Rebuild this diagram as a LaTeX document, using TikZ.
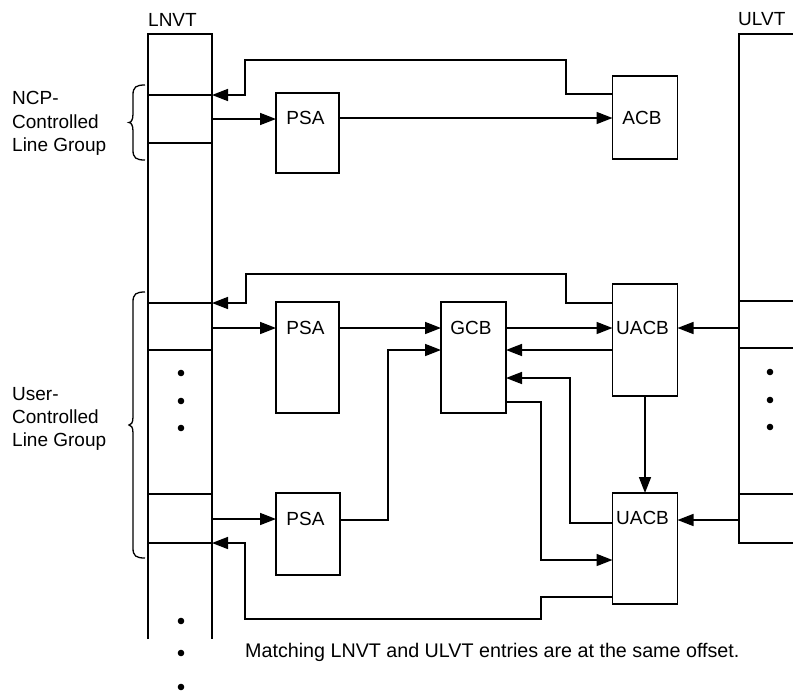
\documentclass[tikz,border=0pt]{standalone}
\usepackage{fontspec}
\setmainfont{Liberation Sans}
\usetikzlibrary{arrows.meta}
\begin{document}
\begin{tikzpicture}[x=1pt,y=-1pt,
  ln/.style={line width=1.6pt},
  arr/.style={line width=1.6pt,-{Triangle[length=16pt,width=12pt]}},
  box/.style={draw,line width=1.6pt,inner sep=0pt,outer sep=0pt},
  lbl/.style={inner sep=0pt,anchor=base,font=\fontsize{19}{22}\selectfont},
  txt/.style={inner sep=0pt,anchor=base west,font=\fontsize{19}{22}\selectfont},
  brc/.style={line width=1.3pt},
  dot/.style={fill=black,draw=none}]
\useasboundingbox (0,0) rectangle (793,691);

% tables (reference nodes)
\node[inner sep=0,outer sep=0,minimum width=64pt,minimum height=605pt,anchor=north west] (lnvt) at (148,34) {};
\node[inner sep=0,outer sep=0,minimum width=60pt,minimum height=509pt,anchor=north west] (ulvt) at (739,34) {};
\draw[ln] (lnvt.south west) -- (lnvt.north west) -- (lnvt.north east) -- (lnvt.south east);
\foreach \yy in {95,143,303,350,494,543} \draw[ln] (148,\yy) -- (212,\yy);
\draw[ln] (793,34) -- (739,34) -- (739,543) -- (793,543);
\foreach \yy in {301,348,494} \draw[ln] (739,\yy) -- (793,\yy);

\node[txt] (lnvtlbl) at (148,26) {LNVT};
\node[txt] (ulvtlbl) at (738,25) {ULVT};

% dots
\foreach \yy in {373,401,428} \fill[dot] (181,\yy) circle (3.3pt);
\foreach \yy in {621,653,687} \fill[dot] (181,\yy) circle (3.3pt);
\foreach \yy in {372,400,427} \fill[dot] (770,\yy) circle (3.3pt);

% braces
\draw[brc] (145,85) .. controls (136,85) and (133,87) .. (133,95) -- (133,114)
  .. controls (133,120) and (131,122.5) .. (129,122.5)
  .. controls (131,122.5) and (133,125) .. (133,131) -- (133,150)
  .. controls (133,158) and (136,160) .. (145,160);
\draw[brc] (145,292) .. controls (136,292) and (133,294) .. (133,302) -- (133,417)
  .. controls (133,423) and (131,425) .. (129,425)
  .. controls (131,425) and (133,427) .. (133,433) -- (133,548)
  .. controls (133,556) and (136,558) .. (145,558);

% group labels
\node[txt] (ncp1) at (12,104) {NCP-};
\node[txt] (ncp2) at (12,128) {Controlled};
\node[txt] (ncp3) at (12,151) {Line Group};
\node[txt] (usr1) at (12,400) {User-};
\node[txt] (usr2) at (12,423) {Controlled};
\node[txt] (usr3) at (12,446) {Line Group};

% boxes
\node[box,minimum width=63pt,minimum height=80pt] (psa1) at (307.5,133) {};
\node[box,minimum width=65pt,minimum height=83pt] (acb) at (645,117.5) {};
\node[box,minimum width=63pt,minimum height=111pt] (psa2) at (307.5,357.5) {};
\node[box,minimum width=65pt,minimum height=111pt] (gcb) at (473.5,357.5) {};
\node[box,minimum width=65pt,minimum height=112pt] (uacb1) at (645,340) {};
\node[box,minimum width=65pt,minimum height=111pt] (uacb2) at (645,548.5) {};
\node[box,minimum width=64pt,minimum height=82pt] (psa3) at (308,534) {};

\node[lbl] (psa1l) at (305.5,124.7) {PSA};
\node[lbl] (acbl) at (642,124.7) {ACB};
\node[lbl] (psa2l) at (305.5,334.7) {PSA};
\node[lbl] (gcbl) at (471,334.7) {GCB};
\node[lbl] (uacb1l) at (642.5,334.7) {UACB};
\node[lbl] (uacb2l) at (642.5,524.7) {UACB};
\node[lbl] (psa3l) at (305.5,525.7) {PSA};

% NCP group connectors
\draw[arr] (acb.west |- 0,94) -- (566,94) -- (566,60) -- (245,60) -- (245,95) -- (lnvt.east |- 0,95);
\draw[arr] (lnvt.east |- 0,119) -- (psa1.west |- 0,119);
\draw[arr] (psa1.east |- 0,118) -- (acb.west |- 0,118);

% user group connectors
\draw[arr] (uacb1.west |- 0,303) -- (566,303) -- (566,274) -- (246,274) -- (246,303) -- (lnvt.east |- 0,303);
\draw[arr] (lnvt.east |- 0,328) -- (psa2.west |- 0,328);
\draw[arr] (psa2.east |- 0,328) -- (gcb.west |- 0,328);
\draw[arr] (gcb.east |- 0,328) -- (uacb1.west |- 0,328);
\draw[arr] (ulvt.west |- 0,328) -- (uacb1.east |- 0,328);
\draw[arr] (uacb1.west |- 0,350) -- (gcb.east |- 0,350);
\draw[arr] (uacb2.west |- 0,523) -- (570,523) -- (570,378) -- (gcb.east |- 0,378);
\draw[arr] (gcb.east |- 0,402) -- (541,402) -- (541,560) -- (uacb2.west |- 0,560);
\draw[arr] (uacb1.south) -- (uacb2.north);
\draw[arr] (ulvt.west |- 0,520) -- (uacb2.east |- 0,520);
\draw[arr] (lnvt.east |- 0,519) -- (psa3.west |- 0,519);
\draw[arr] (psa3.east |- 0,520) -- (388,520) -- (388,350) -- (gcb.west |- 0,350);
\draw[arr] (uacb2.west |- 0,597) -- (541,597) -- (541,619) -- (245,619) -- (245,543) -- (lnvt.east |- 0,543);

\node[txt,font=\fontsize{19.7}{22}\selectfont] (note) at (245,657) {Matching LNVT and ULVT entries are at the same offset.};
\end{tikzpicture}
\end{document}
